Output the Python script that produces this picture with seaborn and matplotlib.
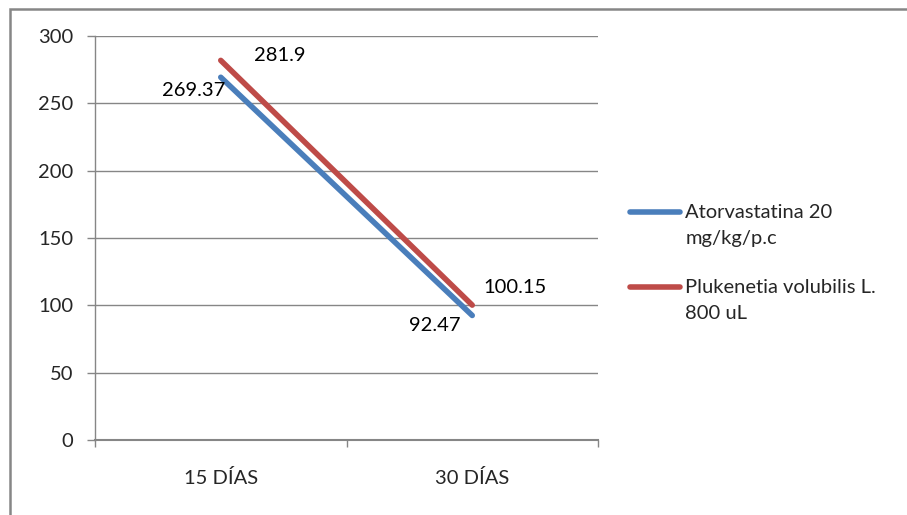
import matplotlib
matplotlib.use("Agg")
import matplotlib.pyplot as plt
import seaborn as sns
import pandas as pd
from matplotlib.patches import Rectangle
from matplotlib.legend_handler import HandlerLine2D

# Data
categories = ["15 DÍAS", "30 DÍAS"]
atorvastatina = [269.37, 92.47]
plukenetia = [281.9, 100.15]
series_names = ["Atorvastatina 20\nmg/kg/p.c", "Plukenetia volubilis L.\n800 uL"]
y_ticks = [0, 50, 100, 150, 200, 250, 300]

sns.set_theme(style="white")
plt.rcParams["font.family"] = ["Lato", "DejaVu Sans"]
FS = 14.5

rows = []
for name, vals in zip(series_names, [atorvastatina, plukenetia]):
    for i, (cat, v) in enumerate(zip(categories, vals)):
        rows.append({"pos": i + 0.5, "cat": cat, "value": v, "serie": name})
df = pd.DataFrame(rows)

colors = ["#4A7EBB", "#BE4B48"]
grid_c = "#868686"

fig = plt.figure(figsize=(9.07, 5.15), dpi=100)
ax = fig.add_axes([95 / 907, 1 - 440 / 515, 503 / 907, 404 / 515])

sns.lineplot(data=df, x="pos", y="value", hue="serie", palette=colors,
             linewidth=4.0, ax=ax, legend=True, solid_capstyle="round")

ax.set_xlim(0, len(categories))
ax.set_ylim(0, 300)
ax.set_yticks(y_ticks)
ax.set_yticklabels([str(t) for t in y_ticks], fontsize=FS)
ax.set_xticks([i + 0.5 for i in range(len(categories))])
ax.set_xticklabels(categories, fontsize=FS)
ax.set_xticks(range(len(categories) + 1), minor=True)
ax.tick_params(axis="x", which="major", length=0, pad=21)
ax.tick_params(axis="x", which="minor", length=5, color=grid_c, width=1, bottom=True)
ax.tick_params(axis="y", length=5.5, color=grid_c, width=1, pad=10, left=True)
ax.set_xlabel("")
ax.set_ylabel("")

ax.yaxis.grid(True, color=grid_c, linewidth=1)
ax.set_axisbelow(True)
for side in ["top", "right"]:
    ax.spines[side].set_visible(False)
ax.spines["left"].set_color(grid_c)
ax.spines["left"].set_linewidth(1)
ax.spines["bottom"].set_color(grid_c)
ax.spines["bottom"].set_linewidth(1.5)

# Value labels
offsets = {
    (0, 0): (-27, -13), (0, 1): (-37, -10),
    (1, 0): (59, 5), (1, 1): (43, 18),
}
for s, vals in enumerate([atorvastatina, plukenetia]):
    for i, v in enumerate(vals):
        ax.annotate(f"{v:g}", xy=(i + 0.5, v), xytext=offsets[(s, i)],
                    textcoords="offset pixels", ha="center", va="center",
                    fontsize=FS, color="black")


class TopLineHandler(HandlerLine2D):
    """Legend line aligned with the first line of a two-line label."""

    def create_artists(self, legend, orig_handle, xdescent, ydescent,
                       width, height, fontsize, trans):
        artists = super().create_artists(legend, orig_handle, xdescent,
                                         ydescent, width, height, fontsize,
                                         trans)
        for a in artists:
            y = a.get_ydata()
            a.set_ydata([v + 0.67 * fontsize for v in y])
        return artists


handles, labels = ax.get_legend_handles_labels()
leg = ax.legend(handles, labels, loc="upper left",
                bbox_to_anchor=(630 / 907, 1 - 204 / 515),
                bbox_transform=fig.transFigure, frameon=False,
                fontsize=FS, handlelength=2.5, handletextpad=0.25,
                labelspacing=1.6, borderpad=0, borderaxespad=0,
                handler_map={type(handles[0]): TopLineHandler()})
for line in leg.get_lines():
    line.set_linewidth(4.0)
for t in leg.get_texts():
    t.set_linespacing(1.65)

# Chart frame
fig.patches.append(Rectangle((10 / 907, -0.1), 1.0, 1 - 9 / 515 + 0.1,
                             transform=fig.transFigure, fill=False,
                             edgecolor=grid_c, linewidth=1.8))

fig.savefig("out.png", dpi=100)
